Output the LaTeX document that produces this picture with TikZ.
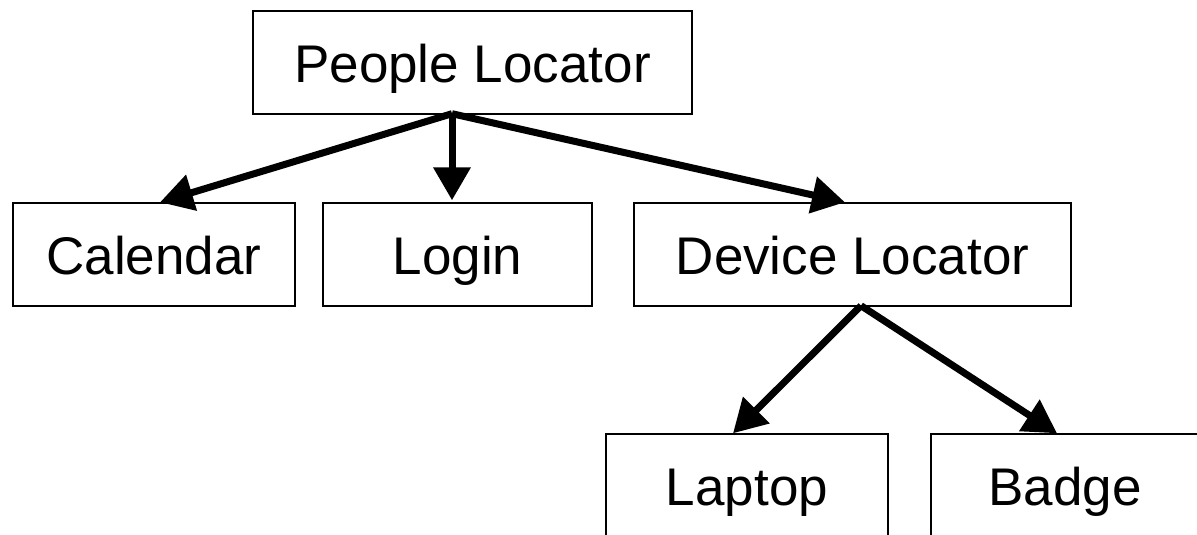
\documentclass[tikz,border=0pt]{standalone}
\usepackage{fontspec}
\setmainfont{Liberation Sans}
\usetikzlibrary{arrows.meta}
\begin{document}
\begin{tikzpicture}[x=1pt,y=-1pt,
  box/.style={draw=black, line width=1.4pt, rectangle, inner sep=0pt,
    minimum height=103pt, text height=40pt, text depth=0pt,
    font=\fontsize{53}{60}\selectfont},
  conn/.style={line width=7pt, -{Triangle[length=33pt,width=36pt]}}]
\useasboundingbox (0,0) rectangle (1197,535);
\node[box, minimum width=439pt] (pl) at (472.5,62.5) {People Locator};
\node[box, minimum width=282pt] (cal) at (154,254.5) {Calendar};
\node[box, minimum width=269pt] (login) at (457.5,254.5) {Login};
\node[box, minimum width=437pt] (dl) at (852.5,254.5) {Device Locator};
\node[box, minimum width=282pt] (lap) at (747,485.5) {Laptop};
\node[box, minimum width=268pt] (badge) at (1065,485.5) {Badge};
\coordinate (plout) at ([xshift=-20.5pt, yshift=1pt]pl.south);
\coordinate (caltip) at ([xshift=6pt]cal.north);
\coordinate (logintip) at ([xshift=-5.5pt, yshift=2pt]login.north);
\coordinate (dltip) at ([xshift=-7.5pt]dl.north);
\coordinate (dlout) at ([xshift=8.5pt, yshift=1pt]dl.south);
\coordinate (laptip) at ([xshift=-14pt]lap.north);
\coordinate (badgetip) at ([xshift=-8pt]badge.north);
\draw[conn] (plout) -- (caltip);
\draw[conn] (plout) -- (logintip);
\draw[conn] (plout) -- (dltip);
\draw[conn] (dlout) -- (laptip);
\draw[conn] (dlout) -- (badgetip);
\end{tikzpicture}
\end{document}
